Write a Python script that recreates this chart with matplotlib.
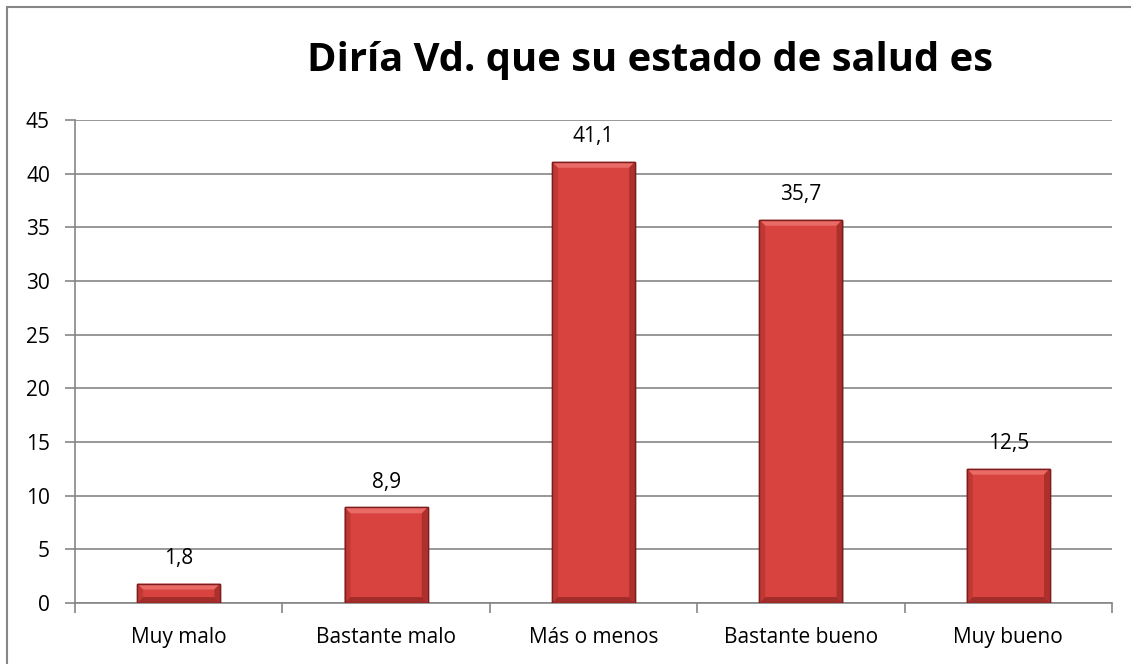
import numpy as np
import matplotlib.pyplot as plt
from matplotlib.patches import Rectangle, Polygon

categorias = ["Muy malo", "Bastante malo", "Más o menos", "Bastante bueno", "Muy bueno"]
porcentajes = [1.8, 8.9, 41.1, 35.7, 12.5]
etiquetas = ["1,8", "8,9", "41,1", "35,7", "12,5"]
titulo = "Diría Vd. que su estado de salud es"

GRIS = "#868686"
ROJO = "#d8433f"
BORDE = "#7c1e1e"

plt.rcParams["font.family"] = ["Open Sans", "DejaVu Sans"]

fig = plt.figure(figsize=(11.31, 6.64), dpi=100)
ax = fig.add_axes([0.0663, 0.0919, 0.9169, 0.7274])

# marco exterior del gráfico (se sale por la derecha y por abajo)
fig.patches.append(Rectangle((0.0062, -0.05), 1.05, 1.0395, transform=fig.transFigure,
                             fill=False, edgecolor=GRIS, linewidth=1.5))

x = np.arange(len(categorias))
ancho = 0.4
ax.bar(x, porcentajes, width=ancho, color=ROJO, edgecolor=BORDE,
       linewidth=1.0, zorder=3)

# biselado de las barras: franja clara arriba, laterales y base más oscuros
bx = 0.028
by = 0.55
for xi, v in zip(x, porcentajes):
    x0, x1 = xi - ancho / 2, xi + ancho / 2
    h = min(by, v / 2)
    ax.add_patch(Polygon([(x0, v), (x1, v), (x1 - bx, v - h), (x0 + bx, v - h)],
                         closed=True, facecolor="#ea6a66", edgecolor="none", zorder=4))
    ax.add_patch(Polygon([(x0, 0), (x0, v), (x0 + bx, v - h), (x0 + bx, h)],
                         closed=True, facecolor="#c03834", edgecolor="none", zorder=4))
    ax.add_patch(Polygon([(x1, 0), (x1, v), (x1 - bx, v - h), (x1 - bx, h)],
                         closed=True, facecolor="#ad302d", edgecolor="none", zorder=4))
    ax.add_patch(Polygon([(x0, 0), (x1, 0), (x1 - bx, h), (x0 + bx, h)],
                         closed=True, facecolor="#a22c29", edgecolor="none", zorder=4))
    ax.add_patch(Rectangle((x0, 0), ancho, v, fill=False, edgecolor=BORDE,
                           linewidth=1.0, zorder=5))
    # sombra suave
    ax.add_patch(Rectangle((x0 + 0.006, -0.15), ancho, v, facecolor="#000000",
                           alpha=0.12, edgecolor="none", zorder=2))

for xi, v, t in zip(x, porcentajes, etiquetas):
    ax.annotate(t, (xi, v), xytext=(0, 18), textcoords="offset points",
                ha="center", va="center", fontsize=15, color="black", zorder=6)

ax.set_xlim(-0.5, len(categorias) - 0.5)
ax.set_ylim(0, 45)
ax.set_yticks(np.arange(0, 46, 5))
ax.set_xticks(x)
ax.set_xticklabels(categorias)
ax.set_xticks(np.arange(-0.5, len(categorias), 1), minor=True)

ax.yaxis.grid(True, color=GRIS, linewidth=1.2, zorder=0)
ax.set_axisbelow(True)
for s in ["top", "right"]:
    ax.spines[s].set_visible(False)
for s in ["left", "bottom"]:
    ax.spines[s].set_color(GRIS)
    ax.spines[s].set_linewidth(1.2)

ax.tick_params(axis="y", length=7, color=GRIS, width=1.2, labelsize=15, pad=11)
ax.tick_params(axis="x", which="major", length=0, labelsize=15, pad=17)
ax.tick_params(axis="x", which="minor", length=7, color=GRIS, width=1.2)

fig.text(0.575, 0.893, titulo, ha="center", va="baseline", fontsize=28.7,
         fontweight="bold", color="black")

fig.savefig("out.png", dpi=100)
